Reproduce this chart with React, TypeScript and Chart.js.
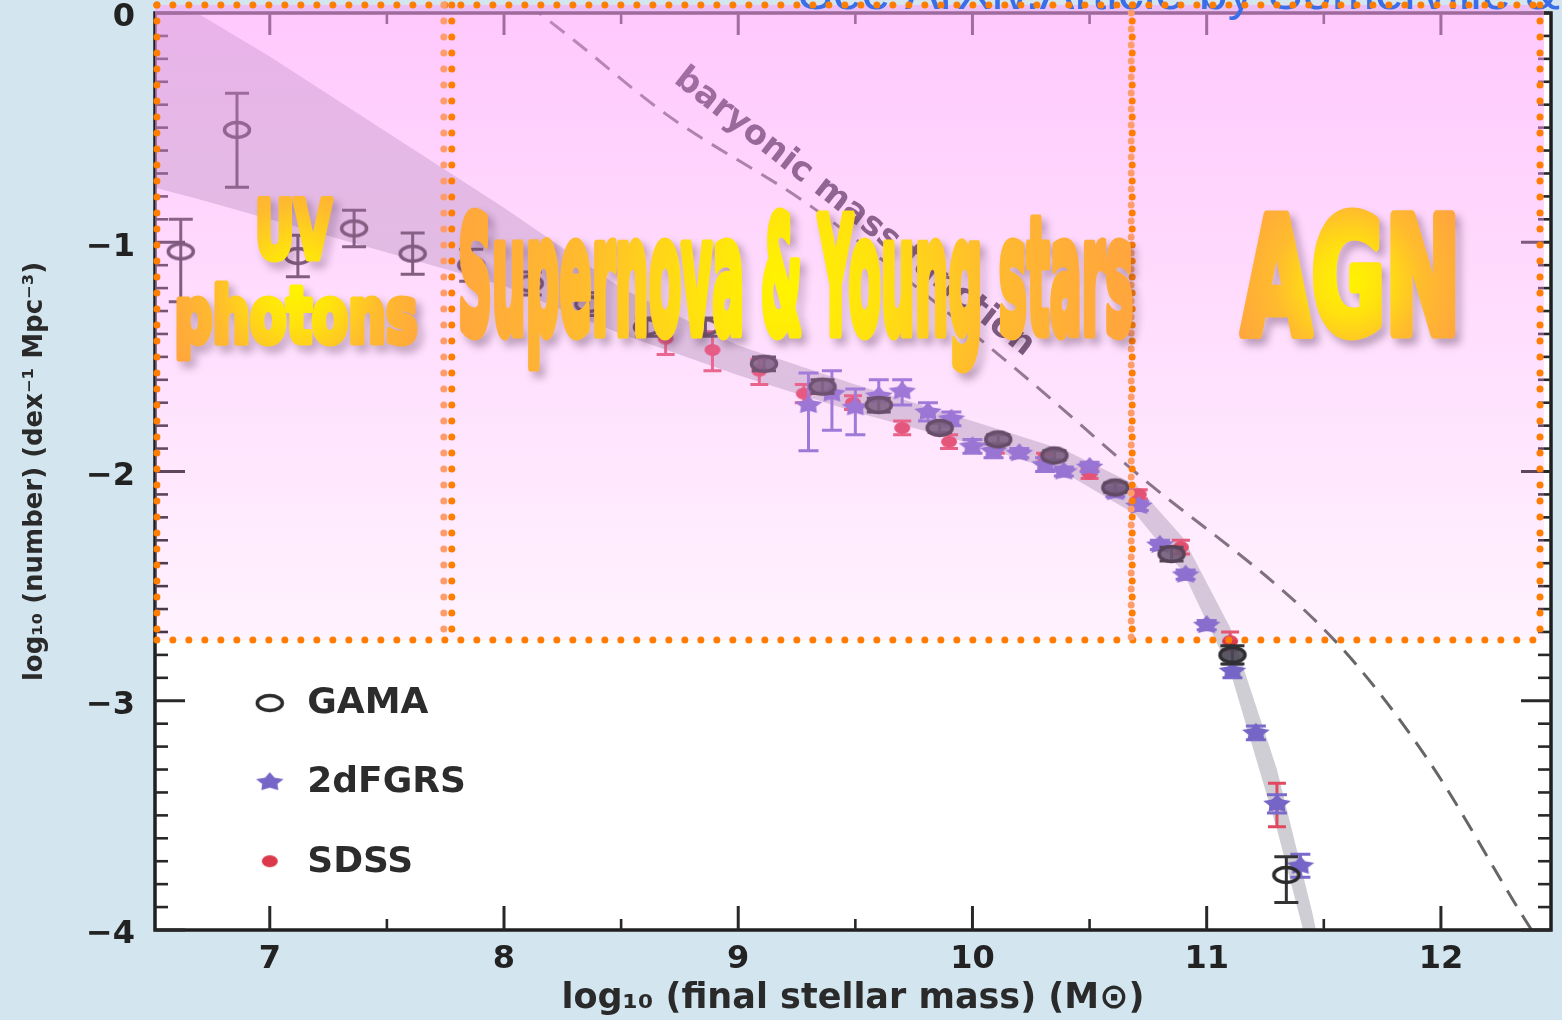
import React, { useEffect, useRef } from 'react';
import { Chart, registerables } from 'chart.js';

Chart.register(...registerables);

// ---------------- data ----------------
const X_TICKS = [7, 8, 9, 10, 11, 12];
const X_MINOR = [7.5, 8.5, 9.5, 10.5, 11.5];
const Y_TICKS = [0, -1, -2, -3, -4];
const Y_TICK_LABELS = ['0', '\u22121', '\u22122', '\u22123', '\u22124'];

const GAMA_X = [6.62, 6.86, 7.12, 7.36, 7.61, 7.86, 8.11, 8.36, 8.61, 8.86, 9.11, 9.36, 9.6, 9.86, 10.11, 10.35, 10.61, 10.85, 11.11, 11.34];
const GAMA_Y = [-1.04, -0.51, -1.06, -0.94, -1.05, -1.1, -1.18, -1.27, -1.37, -1.37, -1.53, -1.63, -1.71, -1.81, -1.86, -1.93, -2.07, -2.36, -2.8, -3.76];
const GAMA_ERR_UP = [0.14, 0.16, 0.09, 0.08, 0.09, 0.07, 0.05, 0.05, 0.04, 0.04, 0.03, 0.03, 0.03, 0.02, 0.02, 0.02, 0.02, 0.03, 0.04, 0.08];
const GAMA_ERR_DN = [0.22, 0.25, 0.09, 0.08, 0.09, 0.07, 0.05, 0.05, 0.04, 0.04, 0.03, 0.03, 0.03, 0.02, 0.02, 0.02, 0.02, 0.03, 0.04, 0.12];

const TDF_X = [9.3, 9.4, 9.5, 9.6, 9.7, 9.81, 9.91, 10.0, 10.09, 10.2, 10.31, 10.39, 10.5, 10.61, 10.71, 10.8, 10.91, 11.0, 11.11, 11.21, 11.3, 11.4];
const TDF_Y = [-1.71, -1.66, -1.72, -1.67, -1.65, -1.74, -1.77, -1.89, -1.91, -1.92, -1.97, -2.0, -1.98, -2.09, -2.15, -2.32, -2.45, -2.67, -2.87, -3.14, -3.45, -3.72];
const TDF_ERR_UP = [0.14, 0.1, 0.08, 0.07, 0.05, 0.04, 0.03, 0.03, 0.03, 0.02, 0.03, 0.02, 0.02, 0.02, 0.02, 0.02, 0.02, 0.02, 0.03, 0.03, 0.04, 0.05];
const TDF_ERR_DN = [0.2, 0.16, 0.12, 0.07, 0.06, 0.04, 0.03, 0.03, 0.03, 0.02, 0.03, 0.02, 0.02, 0.02, 0.02, 0.02, 0.02, 0.02, 0.03, 0.03, 0.04, 0.05];

const SDSS_X = [8.69, 8.89, 9.09, 9.28, 9.49, 9.7, 9.9, 10.1, 10.31, 10.5, 10.71, 10.89, 11.1, 11.3];
const SDSS_Y = [-1.42, -1.47, -1.56, -1.66, -1.7, -1.81, -1.87, -1.9, -1.94, -2.01, -2.1, -2.33, -2.74, -3.45];
const SDSS_ERR_UP = [0.07, 0.08, 0.05, 0.04, 0.03, 0.03, 0.03, 0.02, 0.02, 0.02, 0.02, 0.03, 0.04, 0.09];
const SDSS_ERR_DN = [0.07, 0.09, 0.06, 0.04, 0.03, 0.03, 0.03, 0.02, 0.02, 0.02, 0.02, 0.03, 0.04, 0.1];

const BAND_X = [6.5, 6.69, 7.0, 7.5, 8.0, 8.5, 9.0, 9.5, 10.0, 10.4, 10.7, 10.9, 11.1, 11.3, 11.45, 11.55];
const BAND_UPPER = [0.12, 0.0, -0.19, -0.52, -0.85, -1.2, -1.45, -1.62, -1.78, -1.91, -2.06, -2.29, -2.68, -3.3, -3.92, -4.4];
const BAND_LOWER = [-0.76, -0.81, -0.9, -1.045, -1.19, -1.4, -1.58, -1.74, -1.88, -2.01, -2.19, -2.44, -2.87, -3.56, -4.15, -4.65];

const BARYON_X = [8.1, 8.15, 8.3, 8.69, 9.32, 10.17, 10.68, 11.54, 11.94, 12.35, 12.4];
const BARYON_Y = [0.04, 0.0, -0.12, -0.44, -0.85, -1.54, -1.99, -2.73, -3.25, -3.94, -4.02];

const LEGEND_LABELS = ['GAMA', '2dFGRS', 'SDSS'];
const X_TITLE = 'log\u2081\u2080 (final stellar mass) (M\u2299)';
const Y_TITLE = 'log\u2081\u2080 (number) (dex\u207B\u00B9 Mpc\u207B\u00B3)';
const CURVE_LABEL = 'baryonic mass function';
const SOURCE_NOTE = 'See ArXiv.Article by Somerville & Dav\u00E9';
const REGION_TEXTS = ['UV', 'photons', 'Supernova & Young stars', 'AGN'];

// region frame (data units)
const REGION_EDGES_X = [6.518, 7.743, 7.777, 10.682, 12.423];
const REGION_BOTTOM_Y = -2.735;

// ---------------- layout / style ----------------
const FONT = "'DejaVu Sans', 'Liberation Sans', sans-serif";
const BIG_LABEL_LAYOUT = [
  { cx: 7.11, base: -1.069, w: 0.31, size: 80 },
  { cx: 7.116, base: -1.435, w: 1.01, size: 76 },
  { cx: 9.247, base: -1.396, w: 2.86, size: 160 },
  { cx: 11.6, base: -1.396, w: 0.9, size: 160 },
];
const GRAD_BLOCKS = [
  { x: 7.116, y: -1.2, r: 135, x0: 6.52, x1: 7.76 },
  { x: 9.2, y: -1.2, r: 330, x0: 7.76, x1: 10.9 },
  { x: 11.608, y: -1.17, r: 120, x0: 10.9, x1: 12.44 },
];
const LEGEND_LAYOUT = { markX: 7.0, textX: 7.16, rows: [-3.01, -3.355, -3.7] };

function ellipseMarker(w: number, h: number, lw: number, stroke: string | null, fill: string | null) {
  const c = document.createElement('canvas');
  c.width = w;
  c.height = h;
  const g = c.getContext('2d')!;
  g.beginPath();
  g.ellipse(w / 2, h / 2, w / 2 - lw, h / 2 - lw, 0, 0, Math.PI * 2);
  if (fill) {
    g.fillStyle = fill;
    g.fill();
  }
  if (stroke) {
    g.strokeStyle = stroke;
    g.lineWidth = lw;
    g.stroke();
  }
  return c;
}

function starMarker(w: number, h: number, color: string) {
  const c = document.createElement('canvas');
  c.width = w;
  c.height = h;
  const g = c.getContext('2d')!;
  g.translate(w / 2, h / 2);
  g.scale(1.45, 1);
  g.beginPath();
  for (let i = 0; i < 10; i++) {
    const ang = -Math.PI / 2 + (i * Math.PI) / 5;
    const r = i % 2 === 0 ? h / 2 - 1 : h / 4;
    const px = Math.cos(ang) * r;
    const py = Math.sin(ang) * r;
    if (i === 0) g.moveTo(px, py);
    else g.lineTo(px, py);
  }
  g.closePath();
  g.fillStyle = color;
  g.fill();
  return c;
}

export default function App() {
  const ref = useRef<HTMLCanvasElement | null>(null);

  useEffect(() => {
    document.body.style.margin = '0';
    document.body.style.overflow = 'hidden';
    const canvas = ref.current!;

    const gamaOpen = ellipseMarker(32, 22, 3.5, '#2b2b2b', null);
    const gamaFilled = ellipseMarker(32, 22, 3.5, '#2e2e33', 'rgba(75,72,85,0.88)');
    const tdfStar = starMarker(30, 22, '#7565c6');
    const sdssDot = ellipseMarker(18, 14, 1, null, '#db3a4b');

    const pts = (xs: number[], ys: number[]) => xs.map((x, i) => ({ x, y: ys[i] }));

    const decor = {
      id: 'decor',
      beforeDraw(chart: any) {
        const { ctx, width, height, chartArea: a } = chart;
        ctx.save();
        ctx.fillStyle = '#d3e6f0';
        ctx.fillRect(0, 0, width, height);
        ctx.fillStyle = '#ffffff';
        ctx.fillRect(a.left, a.top, a.right - a.left, a.bottom - a.top);
        ctx.restore();
      },
      beforeDatasetDraw(chart: any, args: any) {
        const ds: any = chart.data.datasets[args.index];
        if (!ds.errUp) return;
        const xs = chart.scales.x;
        const ys = chart.scales.y;
        const ctx = chart.ctx;
        ctx.save();
        ctx.strokeStyle = ds.errColor;
        ctx.lineWidth = 3;
        ds.data.forEach((p: any, i: number) => {
          const px = xs.getPixelForValue(p.x);
          const y1 = ys.getPixelForValue(p.y + ds.errUp[i]);
          const y2 = ys.getPixelForValue(p.y - ds.errDn[i]);
          const c = ds.capHalf;
          ctx.beginPath();
          ctx.moveTo(px, y1);
          ctx.lineTo(px, y2);
          ctx.moveTo(px - c, y1);
          ctx.lineTo(px + c, y1);
          ctx.moveTo(px - c, y2);
          ctx.lineTo(px + c, y2);
          ctx.stroke();
        });
        ctx.restore();
      },
      afterDatasetsDraw(chart: any) {
        const { ctx, chartArea: a } = chart;
        const xs = chart.scales.x;
        const ys = chart.scales.y;
        const X = (v: number) => xs.getPixelForValue(v);
        const Y = (v: number) => ys.getPixelForValue(v);
        const line = (x1: number, y1: number, x2: number, y2: number) => {
          ctx.beginPath();
          ctx.moveTo(x1, y1);
          ctx.lineTo(x2, y2);
          ctx.stroke();
        };
        ctx.save();

        // frame + inward ticks
        ctx.strokeStyle = '#1f1f1f';
        ctx.lineWidth = 3.5;
        ctx.strokeRect(a.left, a.top, a.right - a.left, a.bottom - a.top);
        ctx.strokeStyle = '#282828';
        ctx.lineWidth = 3;
        X_TICKS.forEach((v) => {
          const p = X(v);
          line(p, a.bottom, p, a.bottom - 24);
          line(p, a.top, p, a.top + 22);
        });
        ctx.lineWidth = 2.6;
        X_MINOR.forEach((v) => {
          const p = X(v);
          line(p, a.bottom, p, a.bottom - 11);
          line(p, a.top, p, a.top + 11);
        });
        for (let k = -40; k <= 0; k++) {
          const p = Y(k / 10);
          const major = k % 10 === 0;
          const len = major ? 30 : 13;
          ctx.lineWidth = major ? 3 : 2.6;
          line(a.left, p, a.left + len, p);
          line(a.right, p, a.right - len, p);
        }

        // curve label
        ctx.save();
        ctx.translate(X(8.72), Y(-0.3));
        ctx.rotate((38 * Math.PI) / 180);
        ctx.font = `bold 34px ${FONT}`;
        ctx.fillStyle = '#38343f';
        ctx.textBaseline = 'alphabetic';
        ctx.fillText(CURVE_LABEL, 0, 0);
        ctx.restore();

        // pink overlay
        const topY = a.top - 8;
        const botY = Y(REGION_BOTTOM_Y);
        const ex = REGION_EDGES_X.map(X);
        const grad = ctx.createLinearGradient(0, topY, 0, botY);
        grad.addColorStop(0, 'rgba(255,160,250,0.58)');
        grad.addColorStop(1, 'rgba(255,160,250,0.13)');
        ctx.fillStyle = grad;
        ctx.fillRect(a.left, topY, ex[4] + 4 - a.left, botY - topY);

        // source note (cut at top)
        ctx.font = `52px 'Liberation Sans', Arial, sans-serif`;
        ctx.fillStyle = '#3a6ee8';
        ctx.textBaseline = 'alphabetic';
        ctx.textAlign = 'left';
        ctx.fillText(SOURCE_NOTE, 798, 9);

        // dotted frames
        const dotted = (x0: number, y0: number, x1: number, y1: number, color: string, off = 0) => {
          const len = Math.hypot(x1 - x0, y1 - y0);
          ctx.fillStyle = color;
          for (let d = off; d <= len; d += 16) {
            const t = d / len;
            ctx.beginPath();
            ctx.arc(x0 + (x1 - x0) * t, y0 + (y1 - y0) * t, 3.5, 0, Math.PI * 2);
            ctx.fill();
          }
        };
        const OR = '#ff7d00';
        const LT = '#ff9d6a';
        dotted(ex[0], topY, ex[4], topY, OR);
        dotted(ex[0], botY, ex[4] + 4, botY, OR);
        dotted(ex[0], topY, ex[0], botY, OR);
        dotted(ex[1], topY, ex[1], botY, LT);
        dotted(ex[2], topY, ex[2], botY, OR);
        dotted(ex[3] - 1, topY, ex[3] - 1, botY, LT, 8);
        dotted(ex[3], topY, ex[3], botY, OR);
        dotted(ex[4], topY, ex[4], botY, OR);

        // gradient pattern for the big labels
        const gc = document.createElement('canvas');
        gc.width = chart.width;
        gc.height = chart.height;
        const gg = gc.getContext('2d')!;
        GRAD_BLOCKS.forEach((b) => {
          const cx = X(b.x);
          const cy = Y(b.y);
          const rg = gg.createRadialGradient(cx, cy, 0, cx, cy, b.r);
          rg.addColorStop(0, '#fff400');
          rg.addColorStop(0.28, '#ffe20e');
          rg.addColorStop(0.62, '#ffbb2e');
          rg.addColorStop(1, '#ffa73c');
          gg.fillStyle = rg;
          gg.fillRect(X(b.x0), cy - 160, X(b.x1) - X(b.x0), 320);
        });

        BIG_LABEL_LAYOUT.forEach((L, i) => {
          const text = REGION_TEXTS[i];
          ctx.save();
          ctx.font = `bold ${L.size}px ${FONT}`;
          ctx.textAlign = 'left';
          ctx.textBaseline = 'alphabetic';
          const m = ctx.measureText(text);
          const natural = m.actualBoundingBoxLeft + m.actualBoundingBoxRight;
          const wpx = X(L.cx + L.w / 2) - X(L.cx - L.w / 2);
          const sx = wpx / natural;
          const left = X(L.cx) - wpx / 2;
          ctx.translate(left, Y(L.base));
          ctx.scale(sx, 1);
          const pat = ctx.createPattern(gc, 'no-repeat')!;
          pat.setTransform(ctx.getTransform().inverse());
          ctx.fillStyle = pat;
          ctx.strokeStyle = pat;
          ctx.lineWidth = L.size > 100 ? 11 : 7;
          ctx.lineJoin = 'round';
          ctx.shadowColor = 'rgba(70,40,70,0.4)';
          ctx.shadowOffsetX = 5;
          ctx.shadowOffsetY = 6;
          ctx.shadowBlur = 8;
          ctx.strokeText(text, m.actualBoundingBoxLeft, 0);
          ctx.shadowColor = 'rgba(0,0,0,0)';
          ctx.fillText(text, m.actualBoundingBoxLeft, 0);
          ctx.restore();
        });

        // legend
        const marks = [gamaOpen, tdfStar, sdssDot];
        ctx.font = `bold 36px ${FONT}`;
        ctx.fillStyle = '#2c2c2c';
        ctx.textBaseline = 'middle';
        ctx.textAlign = 'left';
        LEGEND_LABELS.forEach((lab, i) => {
          const yy = Y(LEGEND_LAYOUT.rows[i]);
          const mk = marks[i];
          ctx.drawImage(mk, X(LEGEND_LAYOUT.markX) - mk.width / 2, yy - mk.height / 2);
          ctx.fillText(lab, X(LEGEND_LAYOUT.textX), yy + 1);
        });

        ctx.restore();
      },
    };

    const chart = new Chart(canvas, {
      type: 'scatter',
      data: {
        datasets: [
          {
            type: 'line',
            label: 'band lower',
            data: pts(BAND_X, BAND_LOWER),
            borderWidth: 0,
            pointRadius: 0,
            fill: false,
            order: 10,
          } as any,
          {
            type: 'line',
            label: 'band upper',
            data: pts(BAND_X, BAND_UPPER),
            borderWidth: 0,
            pointRadius: 0,
            fill: '-1',
            backgroundColor: 'rgba(120,120,135,0.36)',
            order: 10,
          } as any,
          {
            type: 'line',
            label: 'baryonic mass function',
            data: pts(BARYON_X, BARYON_Y),
            borderColor: '#666666',
            borderWidth: 3,
            borderDash: [18, 11],
            pointRadius: 0,
            fill: false,
            cubicInterpolationMode: 'monotone',
            order: 9,
          } as any,
          {
            label: 'SDSS',
            data: pts(SDSS_X, SDSS_Y),
            pointStyle: sdssDot,
            pointRadius: 8,
            order: 3,
            errUp: SDSS_ERR_UP,
            errDn: SDSS_ERR_DN,
            errColor: '#e04a5c',
            capHalf: 9,
          } as any,
          {
            label: '2dFGRS',
            data: pts(TDF_X, TDF_Y),
            pointStyle: tdfStar,
            pointRadius: 8,
            order: 2,
            errUp: TDF_ERR_UP,
            errDn: TDF_ERR_DN,
            errColor: '#7a6acb',
            capHalf: 10,
          } as any,
          {
            label: 'GAMA',
            data: pts(GAMA_X, GAMA_Y),
            pointStyle: (c: any) => (c.raw && c.raw.x >= 9 && c.raw.x <= 11.2 ? gamaFilled : gamaOpen),
            pointRadius: 10,
            order: 1,
            errUp: GAMA_ERR_UP,
            errDn: GAMA_ERR_DN,
            errColor: '#333333',
            capHalf: 12,
          } as any,
        ],
      },
      options: {
        responsive: false,
        devicePixelRatio: 1,
        animation: false,
        events: [],
        layout: { padding: { top: 13, right: 10, left: 0, bottom: 0 } },
        plugins: { legend: { display: false }, tooltip: { enabled: false } },
        scales: {
          x: {
            type: 'linear',
            min: 6.51,
            max: 12.47,
            grid: { display: false, drawTicks: false },
            border: { display: false },
            afterBuildTicks: (s: any) => {
              s.ticks = X_TICKS.map((v) => ({ value: v }));
            },
            afterFit: (s: any) => {
              s.height = 90;
              s.paddingLeft = 0;
              s.paddingRight = 0;
            },
            ticks: {
              padding: 10,
              color: '#222',
              font: { family: FONT, weight: 'bold', size: 32 },
              callback: (v: any) => String(v),
            },
            title: {
              display: true,
              text: X_TITLE,
              color: '#2a2a2a',
              font: { family: FONT, weight: 'bold', size: 35 },
              padding: { top: 0, bottom: 0 },
            },
          },
          y: {
            type: 'linear',
            min: -4,
            max: 0,
            grid: { display: false, drawTicks: false },
            border: { display: false },
            afterBuildTicks: (s: any) => {
              s.ticks = Y_TICKS.map((v) => ({ value: v }));
            },
            afterFit: (s: any) => {
              s.width = 155;
              s.paddingTop = 0;
              s.paddingBottom = 0;
            },
            ticks: {
              padding: 20,
              labelOffset: 5,
              color: '#222',
              font: { family: FONT, weight: 'bold', size: 32 },
              callback: (v: any) => Y_TICK_LABELS[Y_TICKS.indexOf(Number(v))] ?? String(v),
            },
            title: {
              display: true,
              text: Y_TITLE,
              color: '#2a2a2a',
              font: { family: FONT, weight: 'bold', size: 26 },
              padding: { top: 20, bottom: 0 },
            },
          },
        },
      } as any,
      plugins: [decor as any],
    });

    return () => chart.destroy();
  }, []);

  return (
    <div style={{ position: 'absolute', left: 0, top: 0, width: 1562, height: 1020, background: '#d3e6f0' }}>
      <canvas ref={ref} width={1562} height={1020} style={{ display: 'block', width: 1562, height: 1020 }} />
    </div>
  );
}
